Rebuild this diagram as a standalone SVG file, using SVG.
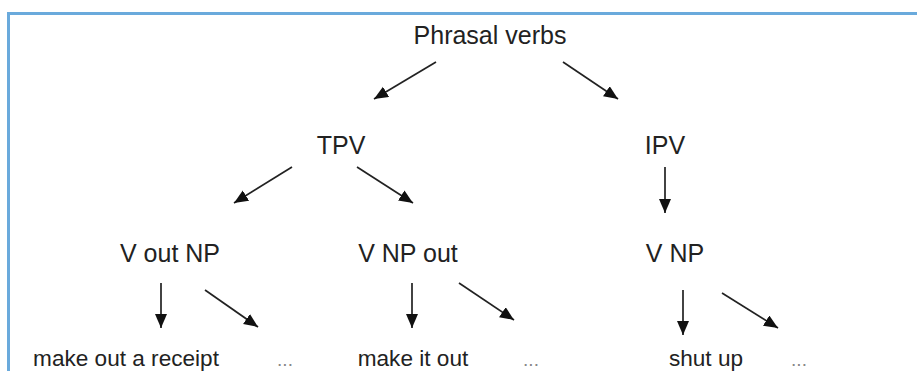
<svg xmlns="http://www.w3.org/2000/svg" width="917" height="371" viewBox="0 0 917 371">
<style>
.t{font-family:"Liberation Sans",Arial,sans-serif;fill:#222;text-anchor:middle}
.n{font-size:25px}
.s{font-size:22.6px}
.d{font-size:19px;fill:#888}
.c line{stroke:#222;stroke-width:1.7;marker-end:url(#ah)}
</style>
<defs>
<marker id="ah" markerUnits="userSpaceOnUse" markerWidth="15" markerHeight="13" refX="14" refY="6" orient="auto">
<path d="M0,0 L14,6 L0,12 z" fill="#111"/>
</marker>
</defs>
<rect width="917" height="371" fill="#fff"/>
<path d="M8.5,371 V13.5 H917" fill="none" stroke="#6aaadc" stroke-width="3"/>
<g id="phrasal"><text class="t n" x="490" y="44">Phrasal verbs</text></g>
<g id="tpv"><text class="t n" x="341" y="154">TPV</text></g>
<g id="ipv"><text class="t n" x="665" y="154">IPV</text></g>
<g id="voutnp"><text class="t n" x="170" y="262">V out NP</text></g>
<g id="vnpout"><text class="t n" x="408" y="262">V NP out</text></g>
<g id="vnp"><text class="t n" x="675" y="262">V NP</text></g>
<g id="ex1"><text class="t s" x="126" y="366">make out a receipt</text></g>
<g id="ex1b"><text class="t d" x="285" y="366">...</text></g>
<g id="ex2"><text class="t s" x="413" y="366">make it out</text></g>
<g id="ex2b"><text class="t d" x="531" y="366">...</text></g>
<g id="ex3"><text class="t s" x="706" y="366">shut up</text></g>
<g id="ex3b"><text class="t d" x="799" y="366">...</text></g>
<g id="connectors" class="c">
<line x1="436" y1="62" x2="374" y2="99"/>
<line x1="563" y1="62" x2="618" y2="99"/>
<line x1="292" y1="167" x2="234" y2="203"/>
<line x1="357" y1="167" x2="413" y2="203"/>
<line x1="665" y1="167" x2="665" y2="213"/>
<line x1="161" y1="283" x2="161" y2="328"/>
<line x1="205" y1="290" x2="258" y2="327"/>
<line x1="412" y1="283" x2="412" y2="328"/>
<line x1="459" y1="283" x2="514" y2="320"/>
<line x1="683" y1="290" x2="683" y2="335"/>
<line x1="722" y1="293" x2="778" y2="328"/>
</g>
</svg>
